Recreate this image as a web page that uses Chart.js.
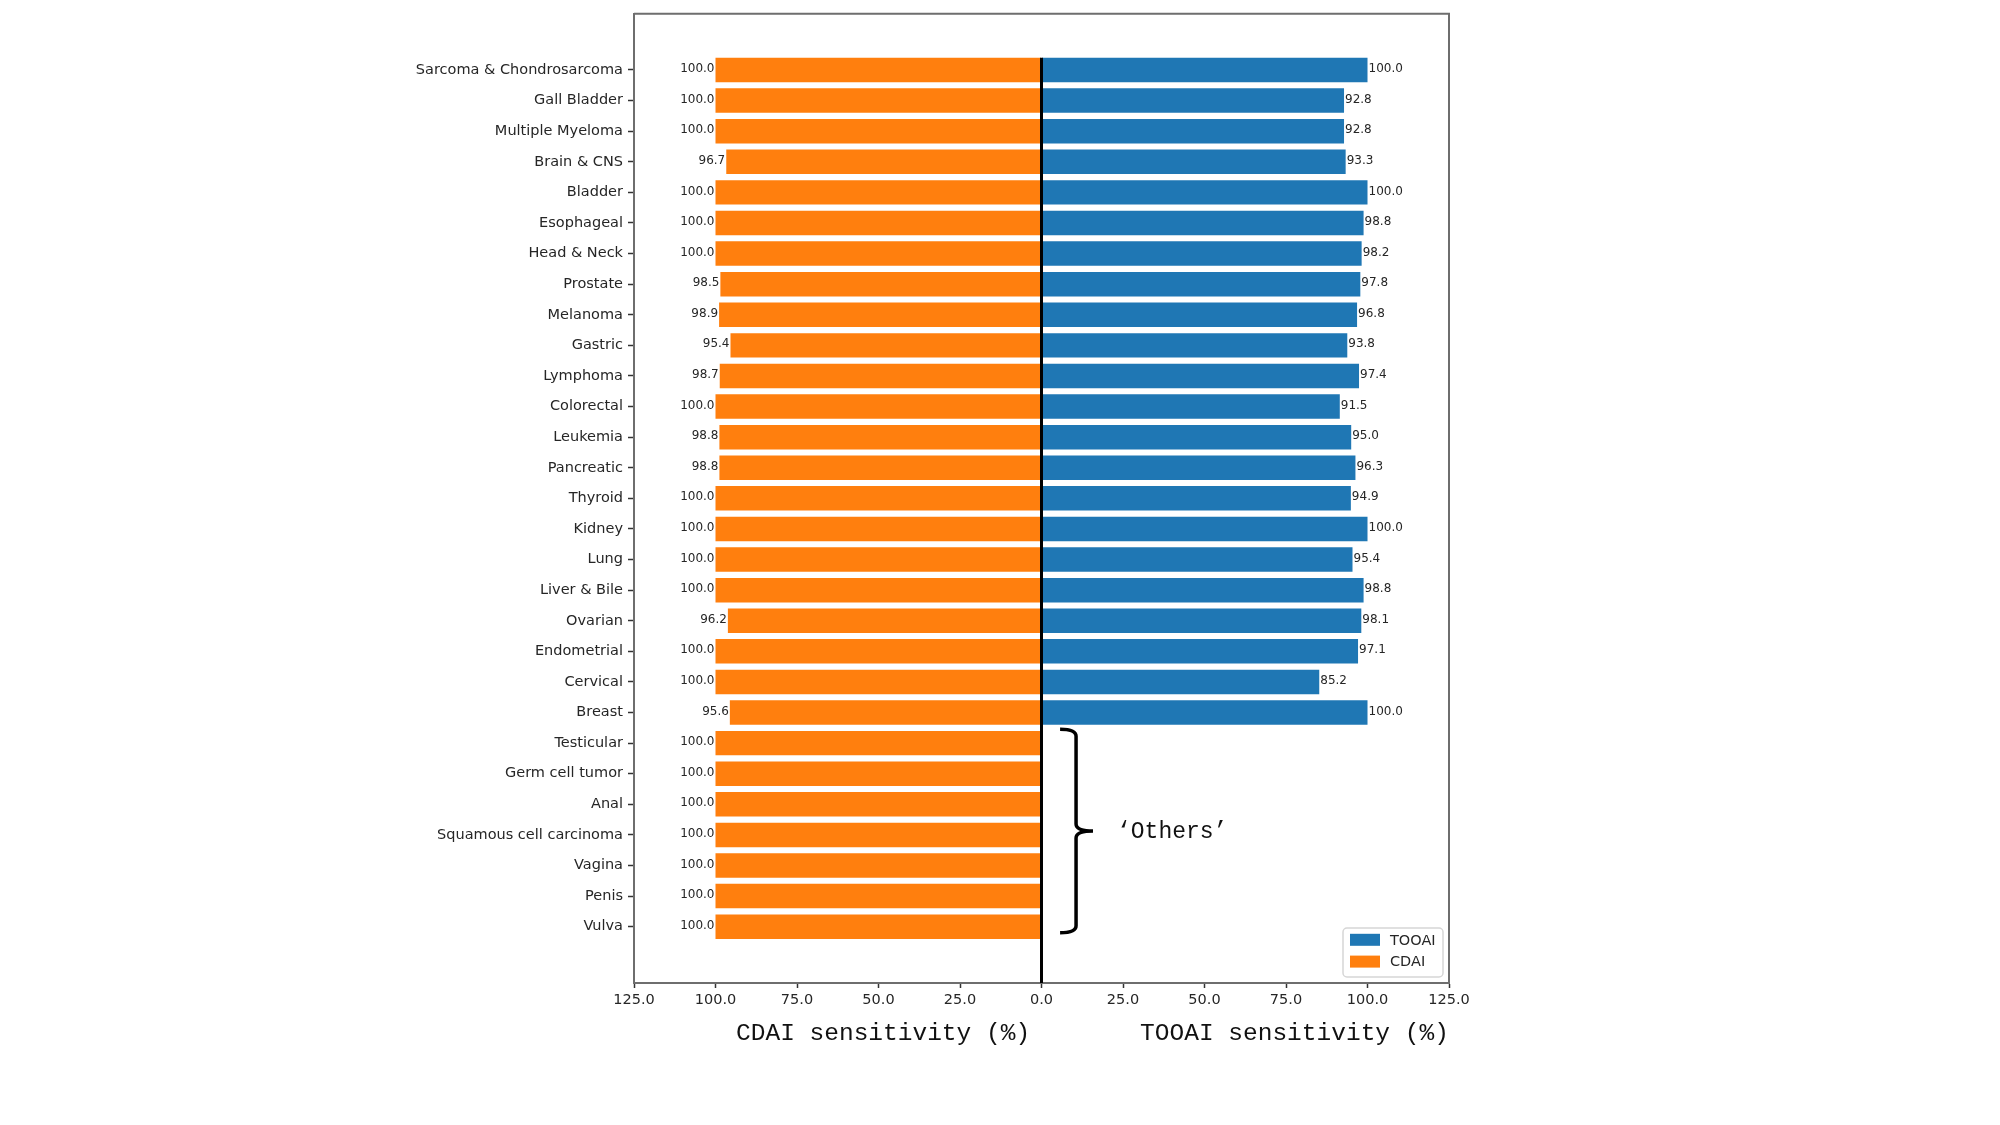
<!DOCTYPE html>
<html><head><meta charset="utf-8">
<script src="https://cdn.jsdelivr.net/npm/chart.js@4/dist/chart.umd.min.js"></script>
<style>html,body{margin:0;padding:0;background:#fff}#wrap{width:2000px;height:1125px}</style>
</head><body><div id="wrap"><canvas id="c" width="2000" height="1125"></canvas></div>
<script>
const categories = ['Sarcoma & Chondrosarcoma','Gall Bladder','Multiple Myeloma','Brain & CNS','Bladder','Esophageal','Head & Neck','Prostate','Melanoma','Gastric','Lymphoma','Colorectal','Leukemia','Pancreatic','Thyroid','Kidney','Lung','Liver & Bile','Ovarian','Endometrial','Cervical','Breast','Testicular','Germ cell tumor','Anal','Squamous cell carcinoma','Vagina','Penis','Vulva'];
const cdaiValues = [100.0,100.0,100.0,96.7,100.0,100.0,100.0,98.5,98.9,95.4,98.7,100.0,98.8,98.8,100.0,100.0,100.0,100.0,96.2,100.0,100.0,95.6,100.0,100.0,100.0,100.0,100.0,100.0,100.0];
const tooaiValues = [100.0,92.8,92.8,93.3,100.0,98.8,98.2,97.8,96.8,93.8,97.4,91.5,95.0,96.3,94.9,100.0,95.4,98.8,98.1,97.1,85.2,100.0];
const xTickValues = [-125,-100,-75,-50,-25,0,25,50,75,100,125];
const seriesNames = ['TOOAI','CDAI'];
const seriesColors = ['#1f77b4','#ff7f0e'];
const othersLabel = '\u2018Others\u2019';
const xTitles = ['CDAI sensitivity (%)','TOOAI sensitivity (%)'];
const othersRange = [22, 28];

const tooaiData = tooaiValues.map((v,i)=>({x:v,y:i}));
const cdaiData = cdaiValues.map((v,i)=>({x:-v,y:i}));

const TXT = '#262626';
const SPINE = '#6e6e6e';

const decor = {
  id:'decor',
  afterDatasetsDraw(chart){
    const ctx = chart.ctx, ca = chart.chartArea;
    const xs = chart.scales.x, ys = chart.scales.y;
    ctx.save();
    // zero line
    ctx.strokeStyle = '#000'; ctx.lineWidth = 3;
    ctx.beginPath();
    ctx.moveTo(xs.getPixelForValue(0), ys.getPixelForValue(-0.4));
    ctx.lineTo(xs.getPixelForValue(0), ca.bottom);
    ctx.stroke();
    // value labels
    ctx.font = '12px "DejaVu Sans"';
    ctx.fillStyle = TXT; ctx.textBaseline = 'middle';
    chart.data.datasets.forEach((ds, di) => {
      const meta = chart.getDatasetMeta(di);
      meta.data.forEach((el, i) => {
        const v = ds.data[i].x;
        const txt = Math.abs(v).toFixed(1);
        if (v < 0) { ctx.textAlign = 'right'; ctx.fillText(txt, el.x - 1, el.y - 1); }
        else { ctx.textAlign = 'left'; ctx.fillText(txt, el.x + 1, el.y - 1); }
      });
    });
    // top/right spines
    ctx.strokeStyle = SPINE; ctx.lineWidth = 2;
    ctx.beginPath();
    ctx.moveTo(ca.left, ca.top); ctx.lineTo(ca.right, ca.top); ctx.lineTo(ca.right, ca.bottom);
    ctx.stroke();
    // brace
    const yTop = ys.getPixelForValue(othersRange[0] - 0.45);
    const yBot = ys.getPixelForValue(othersRange[1] + 0.2);
    const yMid = (yTop + yBot) / 2;
    const x0 = xs.getPixelForValue(5.7), x1 = xs.getPixelForValue(10.6), x2 = xs.getPixelForValue(15.8);
    const r = 7;
    ctx.strokeStyle = '#000'; ctx.lineWidth = 3.5; ctx.lineCap = 'butt';
    ctx.beginPath();
    ctx.moveTo(x0, yTop);
    ctx.quadraticCurveTo(x1, yTop, x1, yTop + r);
    ctx.lineTo(x1, yMid - r);
    ctx.quadraticCurveTo(x1, yMid, x2, yMid);
    ctx.moveTo(x2, yMid);
    ctx.quadraticCurveTo(x1, yMid, x1, yMid + r);
    ctx.lineTo(x1, yBot - r);
    ctx.quadraticCurveTo(x1, yBot, x0, yBot);
    ctx.stroke();
    ctx.font = '23px "Liberation Mono"';
    ctx.fillStyle = '#111'; ctx.textAlign = 'left'; ctx.textBaseline = 'middle';
    ctx.fillText(othersLabel, x2 + 24, yMid + 1);
    // legend
    const bw = 100, bh = 49;
    const bx = ca.right - 6 - bw, by = ca.bottom - 6 - bh;
    ctx.fillStyle = 'rgba(255,255,255,0.8)';
    ctx.strokeStyle = '#d6d6d6'; ctx.lineWidth = 1.5;
    ctx.beginPath();
    if (ctx.roundRect) ctx.roundRect(bx, by, bw, bh, 4); else ctx.rect(bx, by, bw, bh);
    ctx.fill(); ctx.stroke();
    ctx.font = '14.5px "DejaVu Sans"';
    chart.data.datasets.forEach((ds, di) => {
      const cy = by + 11.8 + di * 21.8;
      ctx.fillStyle = ds.backgroundColor;
      ctx.fillRect(bx + 7, cy - 6, 30, 12);
      ctx.fillStyle = TXT; ctx.textAlign = 'left';
      ctx.fillText(ds.label, bx + 47, cy + 1);
    });
    ctx.restore();
  },
  afterDraw(chart){
    const ctx = chart.ctx, xs = chart.scales.x;
    ctx.save();
    ctx.font = '24.5px "Liberation Mono"';
    ctx.fillStyle = '#111'; ctx.textAlign = 'center'; ctx.textBaseline = 'middle';
    ctx.fillText(xTitles[0], xs.getPixelForValue(-48.6), 1034);
    ctx.fillText(xTitles[1], xs.getPixelForValue(77.6), 1034);
    ctx.restore();
  }
};

new Chart(document.getElementById('c'), {
  type:'bar',
  data:{
    datasets:[
      {label:seriesNames[0], data:tooaiData, backgroundColor:seriesColors[0], grouped:false, barPercentage:0.8, categoryPercentage:1.0},
      {label:seriesNames[1], data:cdaiData, backgroundColor:seriesColors[1], grouped:false, barPercentage:0.8, categoryPercentage:1.0}
    ]
  },
  options:{
    indexAxis:'y',
    responsive:false,
    devicePixelRatio:1,
    animation:false,
    layout:{padding:{top:11,right:551,bottom:97,left:0}},
    plugins:{legend:{display:false},tooltip:{enabled:false}},
    scales:{
      y:{
        type:'linear', reverse:true, min:-1.84, max:29.84, offset:false,
        afterBuildTicks(s){ s.ticks = categories.map((_,i)=>({value:i})); },
        afterFit(s){ s.width = 634; },
        ticks:{autoSkip:false, color:TXT, font:{family:'DejaVu Sans', size:14.5}, padding:5,
          callback:(v)=>categories[v]},
        grid:{offset:false, drawOnChartArea:false, drawTicks:true, tickLength:6, tickColor:'#333', tickWidth:1.5},
        border:{display:true, color:SPINE, width:2}
      },
      x:{
        type:'linear', min:-125, max:125, offset:false,
        afterBuildTicks(s){ s.ticks = xTickValues.map(v=>({value:v})); },
        afterFit(s){ s.height = 45; },
        ticks:{autoSkip:false, maxRotation:0, color:TXT, font:{family:'DejaVu Sans', size:14.5}, padding:4,
          callback:(v)=>Math.abs(v).toFixed(1)},
        grid:{offset:false, drawOnChartArea:false, drawTicks:true, tickLength:5, tickColor:'#333', tickWidth:1.5},
        border:{display:true, color:SPINE, width:2}
      }
    }
  },
  plugins:[decor]
});
</script>
</body></html>
